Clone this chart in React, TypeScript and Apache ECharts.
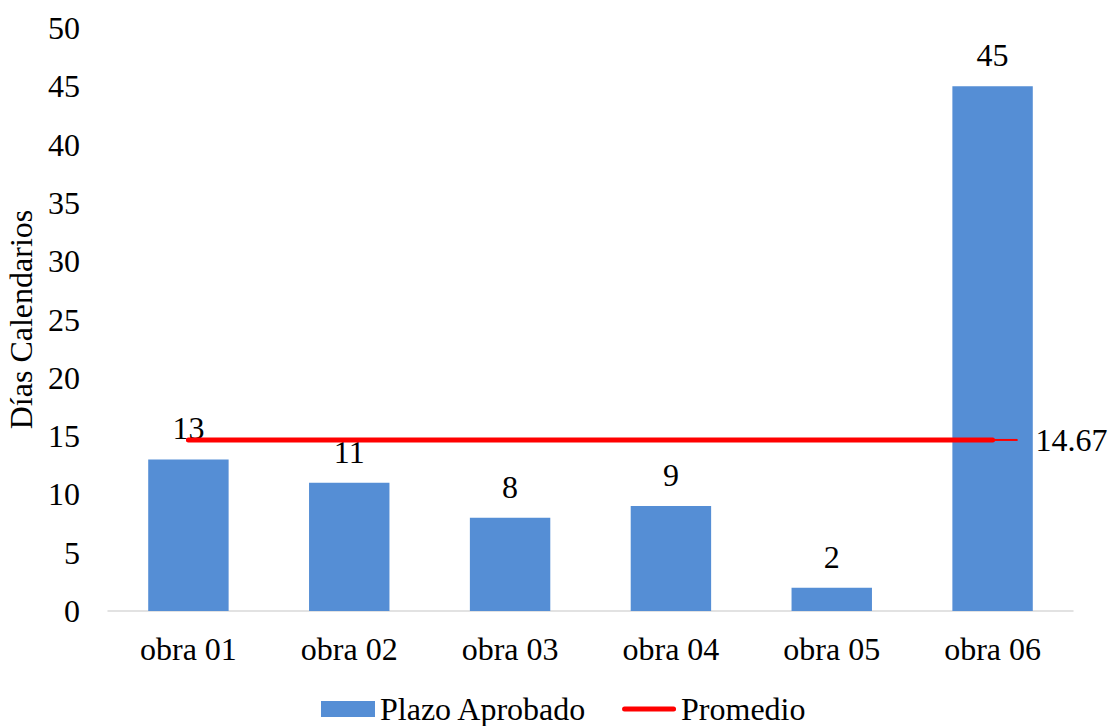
import React, { useEffect, useRef } from "react";
import * as echarts from "echarts";

const categories = ["obra 01", "obra 02", "obra 03", "obra 04", "obra 05", "obra 06"];
const plazoAprobado = [13, 11, 8, 9, 2, 45];
const promedio = [14.67, 14.67, 14.67, 14.67, 14.67, 14.67];
const yTicks = { min: 0, max: 50, interval: 5 };

const FONT = "Liberation Serif";
const FS = 32;
const LINE_ICON =
  "path://M0,0L54,0L54,0Z M2.5,5.5L51.5,5.5A2.5,2.5,0,0,1,51.5,10.5L2.5,10.5A2.5,2.5,0,0,1,2.5,5.5Z M0,16L54,16L54,16Z";

export default function App() {
  const ref = useRef<HTMLDivElement>(null);
  useEffect(() => {
    if (!ref.current) return;
    const chart = echarts.init(ref.current, null, { renderer: "svg" });
    const last = promedio[promedio.length - 1];
    chart.setOption({
      animation: false,
      textStyle: { fontFamily: FONT, color: "#000" },
      grid: { left: 108, right: 35, top: 28, bottom: 115, containLabel: false, outerBoundsMode: "none" },
      legend: {
        bottom: 1,
        left: 321,
        padding: 0,
        itemWidth: 54,
        itemHeight: 16,
        itemGap: 35,
        textStyle: { fontFamily: FONT, fontSize: FS, color: "#000" },
        data: [
          { name: "Plazo Aprobado", icon: "rect" },
          { name: "Promedio", icon: LINE_ICON, itemStyle: { color: "#FF0000", borderWidth: 0 } },
        ],
      },
      xAxis: {
        type: "category",
        data: categories,
        axisLine: { lineStyle: { color: "#D9D9D9", width: 1.5 } },
        axisTick: { show: false },
        axisLabel: { fontFamily: FONT, fontSize: FS, color: "#000", margin: 22 },
      },
      yAxis: {
        type: "value",
        min: yTicks.min,
        max: yTicks.max,
        interval: yTicks.interval,
        name: "Días Calendarios",
        nameLocation: "middle",
        nameGap: 71,
        nameTextStyle: { fontFamily: FONT, fontSize: FS, color: "#000" },
        axisLine: { show: false },
        axisTick: { show: false },
        splitLine: { show: false },
        axisLabel: { fontFamily: FONT, fontSize: FS, color: "#000", margin: 28 },
      },
      series: [
        {
          name: "Plazo Aprobado",
          type: "bar",
          data: plazoAprobado,
          barWidth: "50%",
          itemStyle: { color: "#558ED5" },
          label: {
            show: true,
            position: "top",
            distance: 15,
            fontFamily: FONT,
            fontSize: FS,
            color: "#000",
          },
        },
        {
          name: "Promedio",
          type: "line",
          data: promedio,
          symbol: "none",
          showSymbol: false,
          lineStyle: { color: "#FF0000", width: 5, cap: "round" },
          itemStyle: { color: "#FF0000" },
          endLabel: {
            show: true,
            distance: 2,
            formatter: "{l|}{v|" + last.toFixed(2) + "}",
            rich: {
              l: { width: 23, height: 2, backgroundColor: "#FF0000" },
              v: { fontFamily: FONT, fontSize: FS, color: "#000", padding: [0, 0, 0, 18] },
            },
          },
          z: 5,
        },
      ],
    });
    return () => chart.dispose();
  }, []);
  return (
    <div
      ref={ref}
      style={{ position: "fixed", left: 0, top: 0, width: 1108, height: 726, background: "#fff" }}
    />
  );
}
